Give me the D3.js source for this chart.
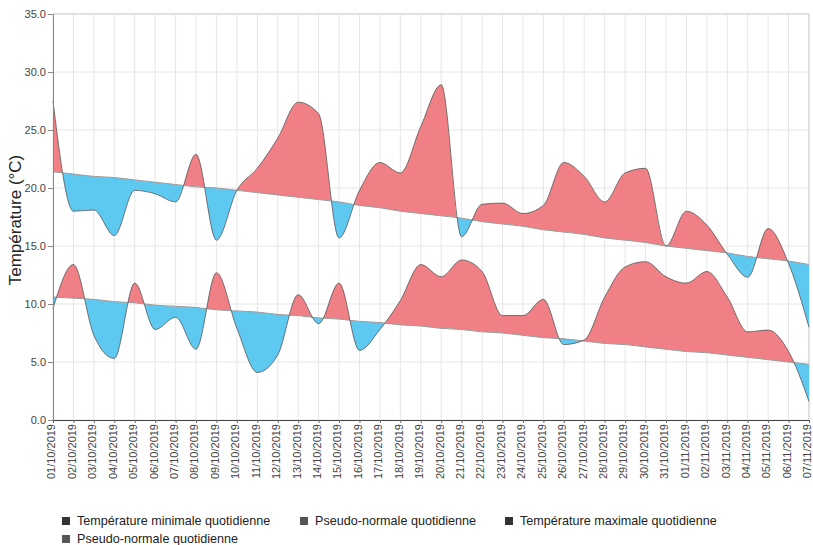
<!DOCTYPE html>
<html><head><meta charset="utf-8">
<script src="https://cdn.jsdelivr.net/npm/d3@7"></script>
<style>body{margin:0;background:#fff;}svg{display:block;font-family:"Liberation Sans",Arial,sans-serif;}</style>
</head><body>
<svg id="c" width="813" height="545"></svg>
<script>
const dates = ["01/10/2019","02/10/2019","03/10/2019","04/10/2019","05/10/2019","06/10/2019","07/10/2019","08/10/2019","09/10/2019","10/10/2019","11/10/2019","12/10/2019","13/10/2019","14/10/2019","15/10/2019","16/10/2019","17/10/2019","18/10/2019","19/10/2019","20/10/2019","21/10/2019","22/10/2019","23/10/2019","24/10/2019","25/10/2019","26/10/2019","27/10/2019","28/10/2019","29/10/2019","30/10/2019","31/10/2019","01/11/2019","02/11/2019","03/11/2019","04/11/2019","05/11/2019","06/11/2019","07/11/2019"];
const tmax = [27.5,18.0,18.1,15.9,19.8,19.5,18.8,22.9,15.5,19.8,21.7,24.3,27.4,26.4,15.7,19.8,22.2,21.3,25.3,28.9,15.8,18.6,18.7,17.8,18.5,22.2,21.0,18.8,21.3,21.7,15.0,18.0,16.8,14.3,12.3,16.5,13.5,8.0];
const normMax = [21.4,21.2,21.0,20.9,20.7,20.5,20.3,20.1,20.0,19.8,19.6,19.4,19.2,19.0,18.8,18.5,18.3,18.0,17.8,17.6,17.4,17.1,16.9,16.7,16.4,16.2,16.0,15.7,15.5,15.3,15.0,14.8,14.6,14.4,14.1,13.9,13.7,13.4];
const tmin = [9.6,13.4,7.3,5.3,11.8,7.8,8.85,6.1,12.7,7.9,4.1,5.6,10.8,8.3,11.8,6.0,7.8,10.3,13.4,12.35,13.8,12.8,9.0,9.0,10.4,6.5,6.9,10.6,13.2,13.65,12.35,11.8,12.8,10.6,7.6,7.75,5.9,1.6];
const normMin = [10.6,10.5,10.4,10.2,10.1,9.9,9.8,9.7,9.5,9.4,9.3,9.1,9.0,8.8,8.7,8.5,8.4,8.2,8.1,7.9,7.8,7.6,7.5,7.3,7.1,7.0,6.8,6.6,6.5,6.3,6.1,5.9,5.8,5.6,5.4,5.2,5.0,4.8];
const yTicks = [0,5,10,15,20,25,30,35];
const legendItems = ["Température minimale quotidienne","Pseudo-normale quotidienne","Température maximale quotidienne","Pseudo-normale quotidienne"];
const legendColors = ["#333333","#555555","#333333","#555555"];

const svg = d3.select("#c");
const L = 53, R = 809, T = 14, B = 420;
const x = d3.scalePoint().domain(dates).range([L, R]);
const y = d3.scaleLinear().domain([0, 35]).range([B, T]);
const RED = "#F08085", BLUE = "#5DC9F1";

// grid
const g = svg.append("g");
g.selectAll("line.h").data(yTicks).join("line")
  .attr("x1", L).attr("x2", R).attr("y1", d => y(d)).attr("y2", d => y(d))
  .attr("stroke", "#e6e6e6").attr("stroke-width", 1);
g.selectAll("line.v").data(dates).join("line")
  .attr("x1", d => x(d)).attr("x2", d => x(d)).attr("y1", T).attr("y2", B)
  .attr("stroke", "#e6e6e6").attr("stroke-width", 1);
svg.append("line").attr("x1", L).attr("x2", R).attr("y1", y(35)).attr("y2", y(35)).attr("stroke", "#cfcfcf");
svg.append("line").attr("x1", R).attr("x2", R).attr("y1", T).attr("y2", B).attr("stroke", "#cfcfcf");

const curve = d3.curveMonotoneX;
function diff(vals, norm, id) {
  const data = dates.map((d, i) => ({d, v: vals[i], n: norm[i]}));
  const defs = svg.append("defs");
  defs.append("clipPath").attr("id", id + "a").append("path")
    .attr("d", d3.area().curve(curve).x(p => x(p.d)).y0(0).y1(p => y(p.n))(data));
  defs.append("clipPath").attr("id", id + "b").append("path")
    .attr("d", d3.area().curve(curve).x(p => x(p.d)).y0(545).y1(p => y(p.n))(data));
  const ar = d3.area().curve(curve).x(p => x(p.d)).y0(p => y(p.n)).y1(p => y(p.v));
  svg.append("path").attr("d", ar(data)).attr("fill", RED).attr("clip-path", `url(#${id}a)`);
  svg.append("path").attr("d", ar(data)).attr("fill", BLUE).attr("clip-path", `url(#${id}b)`);
  svg.append("path").attr("d", d3.line().curve(curve).x(p => x(p.d)).y(p => y(p.n))(data))
    .attr("fill", "none").attr("stroke", "#9a9a9a").attr("stroke-width", 1);
  svg.append("path").attr("d", d3.line().curve(curve).x(p => x(p.d)).y(p => y(p.v))(data))
    .attr("fill", "none").attr("stroke", "#555").attr("stroke-width", 0.8);
}
diff(tmax, normMax, "mx");
diff(tmin, normMin, "mn");

// axes
const ya = svg.append("g").attr("transform", `translate(${L},0)`)
  .call(d3.axisLeft(y).tickValues(yTicks).tickFormat(d3.format(".1f")).tickSize(5).tickPadding(2));
ya.select(".domain").attr("stroke", "#888");
ya.selectAll(".tick line").attr("stroke", "#888");
ya.selectAll("text").attr("font-size", 11).attr("fill", "#444").attr("font-family", "Liberation Sans, Arial, sans-serif");

const xa = svg.append("g").attr("transform", `translate(0,${B})`)
  .call(d3.axisBottom(x).tickSize(3).tickPadding(3));
xa.select(".domain").attr("stroke", "#444");
xa.selectAll(".tick line").attr("stroke", "#666");
xa.selectAll("text").attr("font-size", 11).attr("fill", "#444").attr("font-family", "Liberation Sans, Arial, sans-serif")
  .attr("text-anchor", "end").attr("transform", "rotate(-90)").attr("x", -4).attr("y", -2).attr("dy", "0.35em");

svg.append("text").attr("transform", `translate(21,${(T + B) / 2 + 3}) rotate(-90)`)
  .attr("text-anchor", "middle").attr("font-size", 17).attr("fill", "#222").text("Température (°C)");

// legend
const legPos = [[62, 521], [300, 521], [505, 521], [62, 539]];
const lg = svg.append("g").selectAll("g").data(legendItems).join("g")
  .attr("transform", (d, i) => `translate(${legPos[i][0]},${legPos[i][1]})`);
lg.append("rect").attr("x", 0).attr("y", -4).attr("width", 8).attr("height", 8).attr("fill", (d, i) => legendColors[i]);
lg.append("text").attr("x", 15).attr("y", 0).attr("dy", "0.35em").attr("font-size", 12.6).attr("fill", "#222").text(d => d);
</script>
</body></html>
